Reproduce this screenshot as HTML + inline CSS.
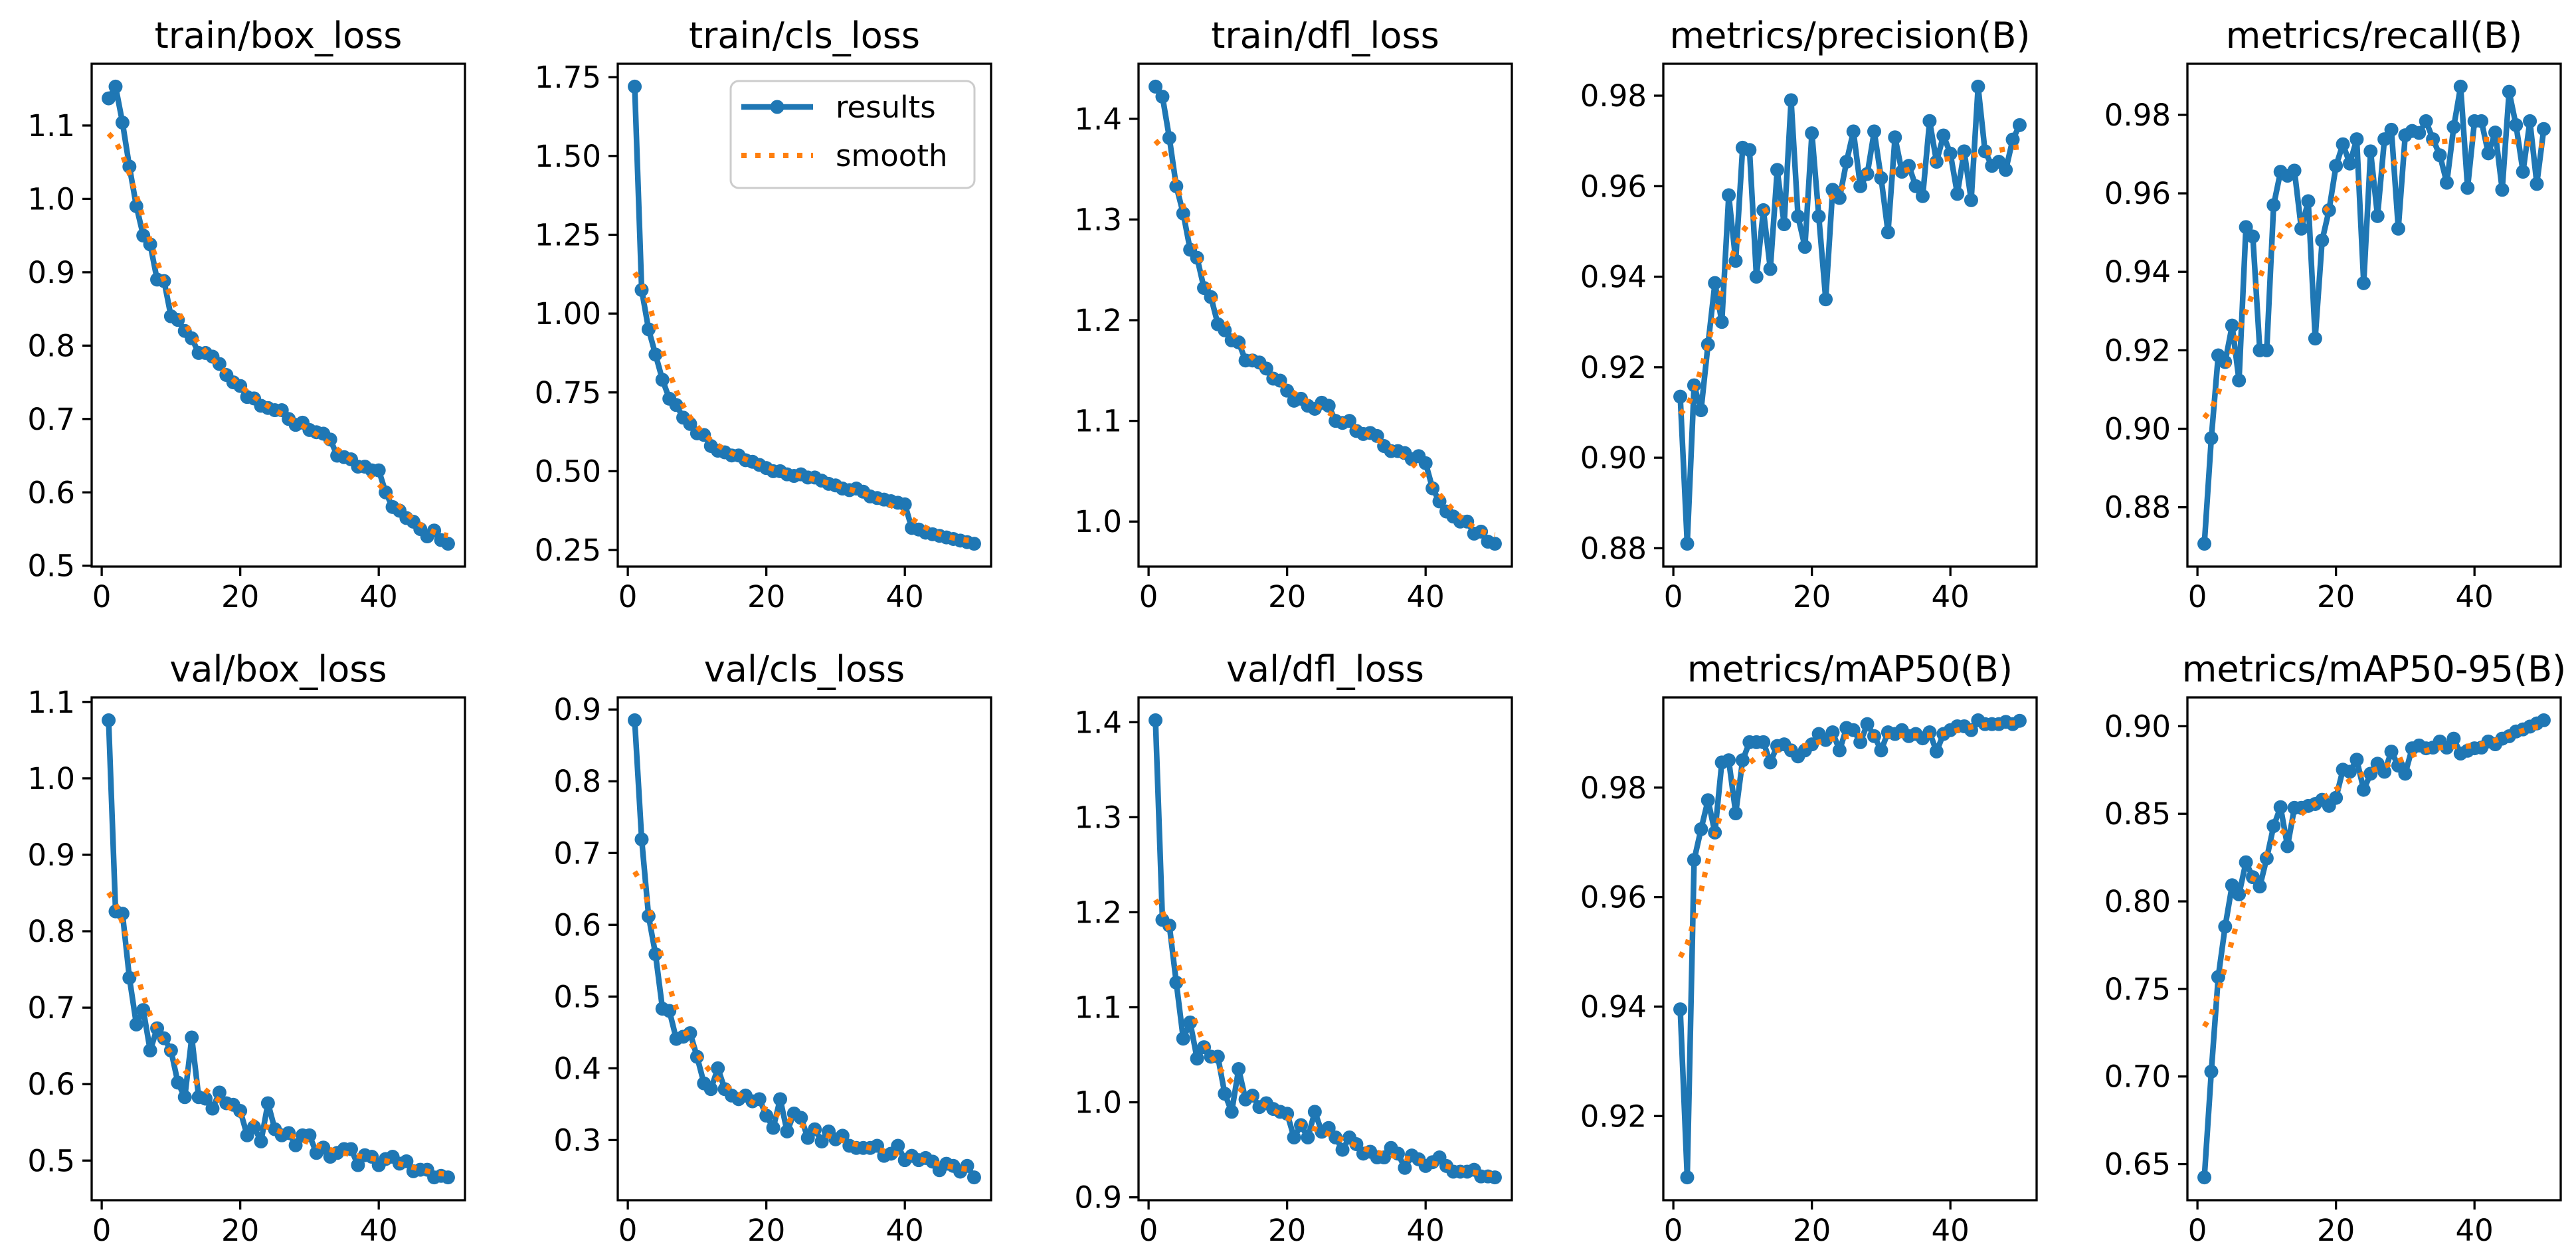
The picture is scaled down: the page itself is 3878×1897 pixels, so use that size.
<!DOCTYPE html>
<html><head><meta charset="utf-8"><style>
html,body{margin:0;padding:0;background:#fff;}
svg{display:block;font-family:"DejaVu Sans","Liberation Sans",sans-serif;}
</style></head><body>
<svg id="fig" width="3878" height="1897" viewBox="0 0 3878 1897" xmlns="http://www.w3.org/2000/svg">
<rect width="3878" height="1897" fill="#fff"/>
</svg>
<script>
const epochs = Array.from({length:50},(_,i)=>i+1);
const titles = ["train/box_loss","train/cls_loss","train/dfl_loss","metrics/precision(B)","metrics/recall(B)","val/box_loss","val/cls_loss","val/dfl_loss","metrics/mAP50(B)","metrics/mAP50-95(B)"];
const trainBox = [1.137,1.153,1.104,1.044,0.99,0.95,0.938,0.89,0.888,0.84,0.835,0.82,0.81,0.79,0.79,0.785,0.775,0.76,0.75,0.745,0.73,0.728,0.718,0.715,0.712,0.712,0.70,0.692,0.695,0.685,0.682,0.680,0.672,0.65,0.648,0.645,0.635,0.635,0.630,0.63,0.60,0.58,0.575,0.565,0.56,0.55,0.54,0.548,0.535,0.53];
const trainCls = [1.72,1.075,0.95,0.87,0.79,0.73,0.71,0.67,0.65,0.62,0.615,0.58,0.565,0.56,0.55,0.55,0.535,0.53,0.52,0.51,0.5,0.50,0.49,0.485,0.49,0.48,0.48,0.47,0.46,0.455,0.445,0.44,0.445,0.435,0.42,0.415,0.41,0.405,0.40,0.395,0.32,0.315,0.305,0.3,0.295,0.29,0.285,0.28,0.275,0.27];
const trainDfl = [1.432,1.422,1.381,1.333,1.306,1.270,1.262,1.232,1.223,1.196,1.19,1.18,1.178,1.16,1.16,1.158,1.152,1.142,1.14,1.13,1.12,1.122,1.115,1.112,1.118,1.115,1.10,1.098,1.10,1.09,1.087,1.088,1.085,1.075,1.07,1.07,1.068,1.062,1.065,1.058,1.033,1.02,1.01,1.005,1.0,1.0,0.988,0.99,0.98,0.978];
const precision = [0.9135,0.881,0.916,0.9105,0.925,0.9386,0.930,0.958,0.9435,0.9685,0.968,0.940,0.9547,0.9417,0.9636,0.9516,0.979,0.9533,0.9466,0.9717,0.9533,0.935,0.9592,0.9574,0.9654,0.9721,0.960,0.9627,0.9721,0.9618,0.9498,0.9708,0.9632,0.9645,0.960,0.9578,0.9744,0.9654,0.9712,0.9672,0.9583,0.9677,0.9569,0.982,0.9677,0.9645,0.9654,0.9636,0.9703,0.9735];
const recall = [0.8707,0.8976,0.9187,0.917,0.9263,0.9123,0.9514,0.949,0.920,0.920,0.957,0.9655,0.9645,0.9658,0.951,0.958,0.923,0.948,0.9557,0.967,0.9725,0.9676,0.9738,0.9371,0.9707,0.9542,0.9738,0.9762,0.951,0.9748,0.9759,0.9754,0.9784,0.9738,0.9697,0.9627,0.9769,0.9872,0.9614,0.9784,0.9784,0.9702,0.9755,0.9609,0.9859,0.9774,0.9655,0.9784,0.9624,0.9764];
const valBox = [1.076,0.826,0.823,0.739,0.678,0.697,0.644,0.673,0.66,0.644,0.602,0.583,0.661,0.583,0.581,0.568,0.589,0.575,0.573,0.565,0.533,0.544,0.525,0.575,0.541,0.533,0.536,0.520,0.533,0.533,0.510,0.517,0.505,0.510,0.515,0.515,0.494,0.507,0.505,0.494,0.502,0.505,0.496,0.499,0.486,0.488,0.488,0.478,0.480,0.478];
const valCls = [0.885,0.719,0.612,0.559,0.483,0.480,0.441,0.444,0.449,0.416,0.379,0.371,0.400,0.371,0.362,0.357,0.362,0.354,0.357,0.334,0.317,0.357,0.312,0.337,0.331,0.303,0.315,0.298,0.312,0.301,0.306,0.292,0.289,0.289,0.289,0.292,0.278,0.281,0.292,0.272,0.278,0.272,0.275,0.270,0.258,0.267,0.264,0.256,0.264,0.248];
const valDfl = [1.402,1.192,1.186,1.126,1.067,1.084,1.046,1.058,1.048,1.048,1.009,0.990,1.035,1.003,1.007,0.995,0.999,0.993,0.990,0.988,0.963,0.976,0.963,0.990,0.969,0.973,0.963,0.950,0.963,0.956,0.946,0.948,0.942,0.942,0.952,0.946,0.931,0.944,0.940,0.933,0.937,0.942,0.933,0.927,0.927,0.927,0.929,0.922,0.922,0.921];
const map50 = [0.9395,0.9088,0.9668,0.9724,0.9777,0.9718,0.9846,0.985,0.9753,0.985,0.9883,0.9883,0.9883,0.9846,0.9876,0.9879,0.9868,0.9857,0.9868,0.9879,0.9898,0.9887,0.9901,0.9868,0.9909,0.9905,0.9883,0.9916,0.9894,0.9868,0.9901,0.9898,0.9905,0.9894,0.9898,0.989,0.9901,0.9866,0.9898,0.9905,0.9912,0.9912,0.9905,0.9923,0.9916,0.9916,0.9916,0.992,0.9916,0.9922];
const map5095 = [0.6424,0.7028,0.7568,0.7856,0.8092,0.804,0.8223,0.8138,0.8085,0.8246,0.843,0.8538,0.8315,0.8534,0.8534,0.8545,0.8556,0.858,0.8545,0.8591,0.8752,0.874,0.8809,0.8637,0.8729,0.8786,0.874,0.8855,0.8775,0.8729,0.8874,0.889,0.8874,0.8878,0.8913,0.8878,0.8929,0.8844,0.886,0.8874,0.8878,0.8913,0.8897,0.8929,0.8943,0.897,0.8982,0.8998,0.9016,0.9034];
const xTicks = [0,20,40];
const yTicks0 = ["0.5","0.6","0.7","0.8","0.9","1.0","1.1"];
const yTicks1 = ["0.25","0.50","0.75","1.00","1.25","1.50","1.75"];
const yTicks2 = ["1.0","1.1","1.2","1.3","1.4"];
const yTicks3 = ["0.88","0.90","0.92","0.94","0.96","0.98"];
const yTicks4 = ["0.88","0.90","0.92","0.94","0.96","0.98"];
const yTicks5 = ["0.5","0.6","0.7","0.8","0.9","1.0","1.1"];
const yTicks6 = ["0.3","0.4","0.5","0.6","0.7","0.8","0.9"];
const yTicks7 = ["0.9","1.0","1.1","1.2","1.3","1.4"];
const yTicks8 = ["0.92","0.94","0.96","0.98"];
const yTicks9 = ["0.65","0.70","0.75","0.80","0.85","0.90"];

const series=[trainBox,trainCls,trainDfl,precision,recall,valBox,valCls,valDfl,map50,map5095];
const yTickSets=[yTicks0,yTicks1,yTicks2,yTicks3,yTicks4,yTicks5,yTicks6,yTicks7,yTicks8,yTicks9];
const NS="http://www.w3.org/2000/svg";
const svg=document.getElementById('fig');
const colLeft=[138,930,1714,2504,3293], rowTop=[96,1050], AW=562, AH=757;
const BLUE="#1f77b4", ORANGE="#ff7f0e";
const TICKFS=45, TITLEFS=54;

function mk(tag,attrs,parent){const e=document.createElementNS(NS,tag);for(const k in attrs)e.setAttribute(k,attrs[k]);(parent||svg).appendChild(e);return e;}
function gauss(y,sigma){
  const r=Math.round(4*sigma), w=[];let s=0;
  for(let k=-r;k<=r;k++){const v=Math.exp(-0.5*k*k/(sigma*sigma));w.push(v);s+=v;}
  const n=y.length,out=[];
  const idx=i=>{while(i<0||i>=n){if(i<0)i=-i-1;if(i>=n)i=2*n-i-1;}return i;};
  for(let i=0;i<n;i++){let a=0;for(let k=-r;k<=r;k++)a+=w[k+r]*y[idx(i+k)];out.push(a/s);}
  return out;
}

series.forEach((ys,p)=>{
  const L=colLeft[p%5], T=rowTop[Math.floor(p/5)], R=L+AW, B=T+AH;
  const sm=gauss(ys,3);
  const all=ys.concat(sm);
  const mn=Math.min(...all), mx=Math.max(...all), rg=mx-mn;
  const y0=mn-0.05*rg, y1=mx+0.05*rg;
  const x0=1-0.05*49, x1=50+0.05*49;
  const sx=v=>L+(v-x0)/(x1-x0)*AW;
  const sy=v=>B-(v-y0)/(y1-y0)*AH;
  const g=mk('g',{});
  
  
  const t=mk('text',{x:L+AW/2,y:T-24,'text-anchor':'middle','font-size':TITLEFS,fill:'#000'},g);
  t.textContent=titles[p];
  
  
  const clipId='c'+p;
  const cp=mk('clipPath',{id:clipId},g);mk('rect',{x:L,y:T,width:AW,height:AH},cp);
  const pts=ys.map((v,i)=>sx(epochs[i]).toFixed(1)+','+sy(v).toFixed(1)).join(' ');
  const line=mk('polyline',{points:pts,fill:'none',stroke:BLUE,'stroke-width':8.5,'stroke-linejoin':'round','clip-path':`url(#${clipId})`},g);
  
  
  ys.forEach((v,i)=>{
    const c=mk('circle',{cx:sx(epochs[i]),cy:sy(v),r:10.5,fill:BLUE},g);
    
    
  });
  const spts=sm.map((v,i)=>sx(epochs[i]).toFixed(1)+','+sy(v).toFixed(1)).join(' ');
  const sl=mk('polyline',{points:spts,fill:'none',stroke:ORANGE,'stroke-width':8,'stroke-dasharray':'8 13'},g);
  
  
  const fr=mk('rect',{x:L,y:T,width:AW,height:AH,fill:'none',stroke:'#000','stroke-width':3.3},g);
  
  
  xTicks.forEach(xv=>{
    const X=sx(xv);
    mk('line',{x1:X,y1:B,x2:X,y2:B+14,stroke:'#000','stroke-width':3.3},g);
    const tx=mk('text',{x:X,y:B+61,'text-anchor':'middle','font-size':TICKFS,fill:'#000'},g);
    tx.textContent=xv;
    
    
  });
  yTickSets[p].forEach(lbl=>{
    const Y=sy(parseFloat(lbl));
    mk('line',{x1:L-14,y1:Y,x2:L,y2:Y,stroke:'#000','stroke-width':3.3},g);
    const ty=mk('text',{x:L-25,y:Y+16,'text-anchor':'end','font-size':TICKFS,fill:'#000'},g);
    ty.textContent=lbl;
    
    
  });
});

// legend in train/cls_loss panel
const lg=mk('g',{});


mk('rect',{x:1100,y:122,width:367,height:161,rx:12,fill:'#fff','fill-opacity':0.8,stroke:'#cccccc','stroke-width':3},lg);
mk('line',{x1:1116,y1:161,x2:1224,y2:161,stroke:BLUE,'stroke-width':8.5},lg);
mk('circle',{cx:1170,cy:161,r:10.5,fill:BLUE},lg);
const lt1=mk('text',{x:1258,y:177,'font-size':TICKFS,fill:'#000'},lg);lt1.textContent='results';


mk('line',{x1:1116,y1:234,x2:1224,y2:234,stroke:ORANGE,'stroke-width':8,'stroke-dasharray':'8 13'},lg);
const lt2=mk('text',{x:1258,y:250,'font-size':TICKFS,fill:'#000'},lg);lt2.textContent='smooth';


</script>
</body></html>
